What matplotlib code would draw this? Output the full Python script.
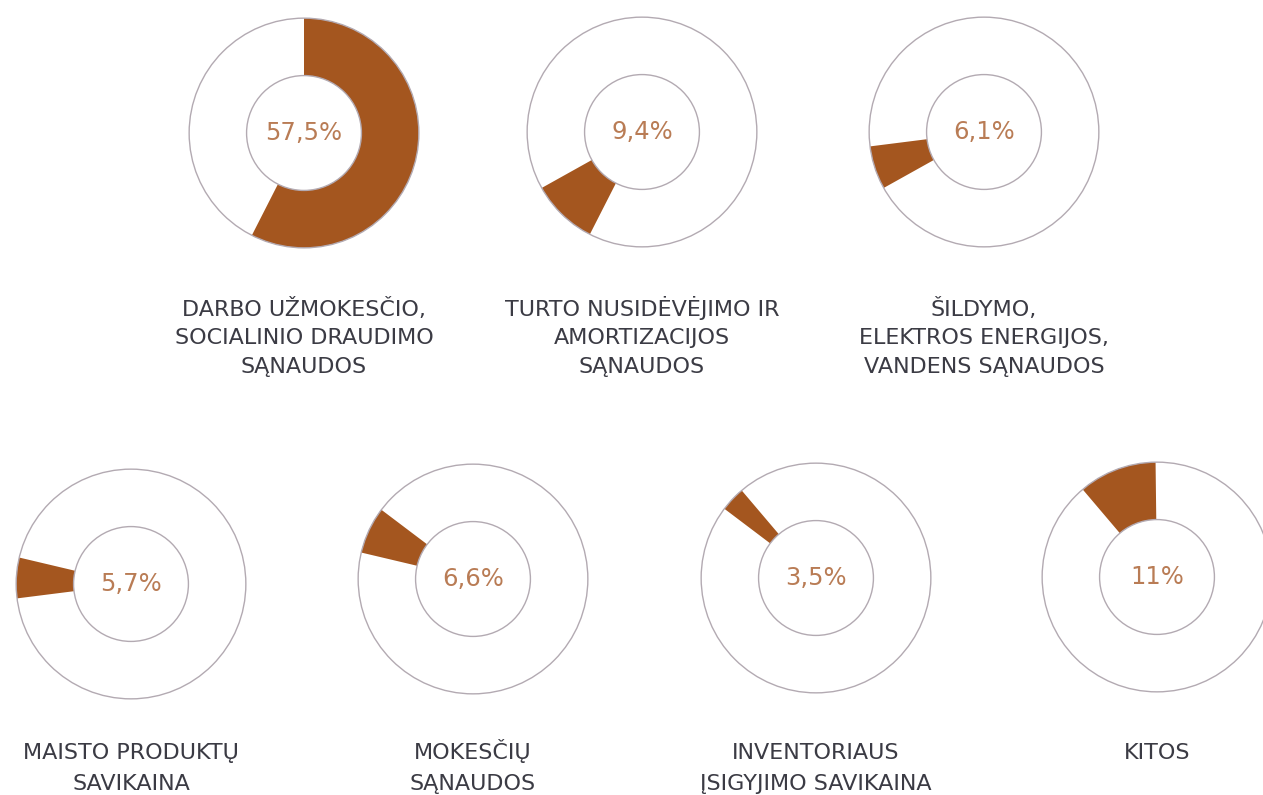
import matplotlib
matplotlib.use("Agg")
import matplotlib.pyplot as plt
from matplotlib.patches import Circle

# ---- data ----
categories = [
    "DARBO UŽMOKESČIO,\nSOCIALINIO DRAUDIMO\nSĄNAUDOS",
    "TURTO NUSIDĖVĖJIMO IR\nAMORTIZACIJOS\nSĄNAUDOS",
    "ŠILDYMO,\nELEKTROS ENERGIJOS,\nVANDENS SĄNAUDOS",
    "MAISTO PRODUKTŲ\nSAVIKAINA",
    "MOKESČIŲ\nSĄNAUDOS",
    "INVENTORIAUS\nĮSIGYJIMO SAVIKAINA",
    "KITOS",
]
shares = [57.5, 9.4, 6.1, 5.7, 6.6, 3.5, 11.0]
share_labels = ["57,5%", "9,4%", "6,1%", "5,7%", "6,6%", "3,5%", "11%"]

# ---- layout (pixels) ----
W, H = 1263, 795
centers = [(304, 133), (642, 132), (984, 132),
           (131, 584), (473, 579), (816, 578), (1157, 577)]
R = 116
label_first_baseline = [316, 316, 316, 759, 759, 759, 759]
line_step = [28.5, 28.5, 28.5, 31, 31, 31, 31]

WEDGE = "#a4561f"
EDGE = "#b3aab2"
PCT = "#b97c55"
TXT = "#3b3b44"

fig = plt.figure(figsize=(W / 100, H / 100), dpi=100)
fig.patch.set_facecolor("white")

total = 100.0
cum = 0.0
for i, (val, (cx, cy)) in enumerate(zip(shares, centers)):
    ax = fig.add_axes([(cx - R) / W, (H - cy - R) / H, 2 * R / W, 2 * R / H])
    ax.axis("off")
    before = cum
    after = max(total - before - val, 0.0)
    ax.pie([before, val, after], colors=["none", WEDGE, "none"],
           radius=1.0, startangle=90, counterclock=False,
           wedgeprops=dict(width=0.5, linewidth=0))
    ax.set_xlim(-1.01, 1.01)
    ax.set_ylim(-1.01, 1.01)
    ax.add_patch(Circle((0, 0), 1.0, fill=False, ec=EDGE, lw=1.0))
    ax.add_patch(Circle((0, 0), 0.5, fill=False, ec=EDGE, lw=1.0))
    ax.text(0, 0, share_labels[i], ha="center", va="center",
            fontsize=17.5, color=PCT, family="DejaVu Sans")
    cum += val

# labels in pixel coordinates
tax = fig.add_axes([0, 0, 1, 1])
tax.set_xlim(0, W)
tax.set_ylim(H, 0)
tax.axis("off")
for i, lab in enumerate(categories):
    cx = centers[i][0]
    for j, line in enumerate(lab.split("\n")):
        tax.text(cx, label_first_baseline[i] + j * line_step[i], line,
                 ha="center", va="baseline", fontsize=16, color=TXT,
                 family="DejaVu Sans")

fig.savefig("out.png", dpi=100)
